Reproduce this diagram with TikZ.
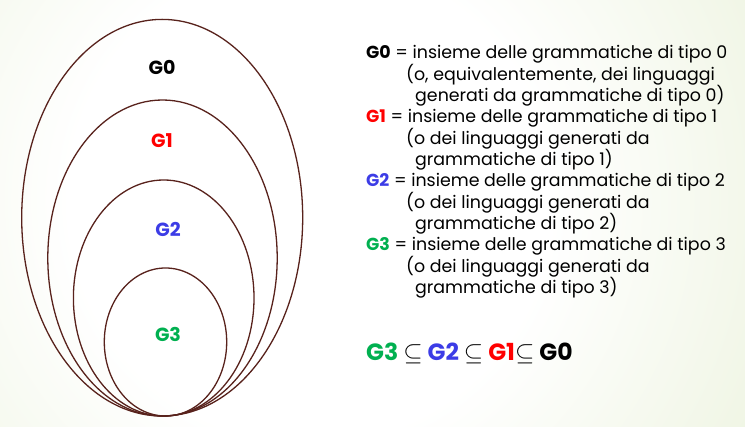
\documentclass[tikz,border=0pt]{standalone}
\usepackage{fontspec}
\setmainfont{Poppins}
\definecolor{bggreen}{RGB}{210,226,176}
\definecolor{ringcol}{RGB}{88,34,28}
\definecolor{gred}{RGB}{255,0,0}
\definecolor{gblue}{RGB}{60,60,230}
\definecolor{ggreen}{RGB}{0,176,80}
\pgfdeclareradialshading{bgshade}{\pgfpoint{0bp}{0bp}}{color(0bp)=(white); color(12bp)=(white); color(50bp)=(bggreen)}
\begin{document}
\begin{tikzpicture}[x=1pt,y=-1pt,
  ring/.style={draw=ringcol,line width=1.3pt},
  glabel/.style={font=\fontsize{19}{21}\selectfont\bfseries,anchor=center,inner sep=0pt},
  txt/.style={font=\fontsize{17.4}{19}\selectfont,anchor=base west,inner sep=0pt},
  rel/.style={font=\fontsize{23.5}{26}\selectfont\bfseries,anchor=base west,inner sep=0pt}]
\useasboundingbox (0,0) rectangle (745,427);
\begin{scope}
\clip (0,0) rectangle (745,427);
\shade[shading=bgshade] (310,200) +(-500,-500) rectangle +(500,500);
\end{scope}
% rings
\draw[ring] (162.2,217.7) ellipse [x radius=140.5, y radius=198.3];
\draw[ring] (162.5,258) ellipse [x radius=114.7, y radius=158];
\draw[ring] (163.7,298) ellipse [x radius=90.3, y radius=118];
\draw[ring] (165.5,342) ellipse [x radius=61.2, y radius=74];
% ring labels
\node[glabel] (l0) at (162,67) {G0};
\node[glabel,text=gred] (l1) at (162,141) {G1};
\node[glabel,text=gblue] (l2) at (168,229) {G2};
\node[glabel,text=ggreen] (l3) at (168,334) {G3};
% descriptions
\node[txt] (d0a) at (366,59) {\textbf{G0} = insieme delle grammatiche di tipo 0};
\node[txt] (d0b) at (406,80.3) {(o, equivalentemente, dei linguaggi};
\node[txt] (d0c) at (415,101.7) {generati da grammatiche di tipo 0)};
\node[txt] (d1a) at (366,123) {\textbf{\color{gred}G1} = insieme delle grammatiche di tipo 1};
\node[txt] (d1b) at (406,144.3) {(o dei linguaggi generati da};
\node[txt] (d1c) at (415,165.7) {grammatiche di tipo 1)};
\node[txt] (d2a) at (366,187) {\textbf{\color{gblue}G2} = insieme delle grammatiche di tipo 2};
\node[txt] (d2b) at (406,208.3) {(o dei linguaggi generati da};
\node[txt] (d2c) at (415,229.7) {grammatiche di tipo 2)};
\node[txt] (d3a) at (366,251) {\textbf{\color{ggreen}G3} = insieme delle grammatiche di tipo 3};
\node[txt] (d3b) at (406,272.3) {(o dei linguaggi generati da};
\node[txt] (d3c) at (415,293.7) {grammatiche di tipo 3)};
% relation
\node[rel] (rel) at (366,361) {\textcolor{ggreen}{G3} $\subseteq$ \textcolor{gblue}{G2} $\subseteq$ \textcolor{gred}{G1}$\subseteq$ G0};
\end{tikzpicture}
\end{document}
